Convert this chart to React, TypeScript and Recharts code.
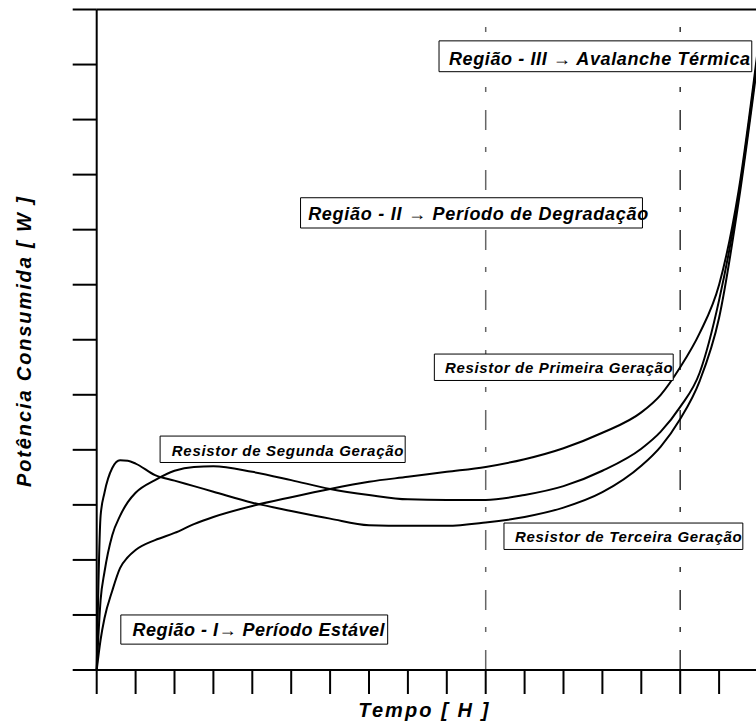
import { LineChart, Line, XAxis, YAxis, ReferenceLine, ReferenceArea } from "recharts";

// tempo (h) and power curves
const tempo = [0, 0.1, 0.2, 0.4, 0.6, 0.8, 1, 1.5, 2, 2.5, 3, 4, 5, 6, 7, 8, 9, 10, 11, 12, 13, 14, 14.5, 15, 15.5, 16, 16.5, 17];
const primeira = [0, 0.55, 0.94, 1.44, 1.85, 2.05, 2.18, 2.36, 2.49, 2.65, 2.78, 2.98, 3.14, 3.29, 3.42, 3.51, 3.6, 3.69, 3.83, 4.03, 4.31, 4.68, 5.0, 5.5, 6.12, 7.0, 8.7, 11.3];
const segunda = [0, 1.27, 1.78, 2.45, 2.8, 3.05, 3.22, 3.45, 3.62, 3.69, 3.7, 3.6, 3.45, 3.29, 3.18, 3.1, 3.09, 3.09, 3.18, 3.34, 3.62, 4.02, 4.33, 4.78, 5.4, 6.72, 8.6, 11.2];
const terceira = [0, 2.8, 3.22, 3.67, 3.81, 3.8, 3.75, 3.54, 3.44, 3.34, 3.24, 3.04, 2.89, 2.75, 2.63, 2.62, 2.62, 2.68, 2.78, 2.95, 3.23, 3.71, 4.06, 4.56, 5.25, 6.4, 8.5, 11.1];

const xTicks = [0, 1, 2, 3, 4, 5, 6, 7, 8, 9, 10, 11, 12, 13, 14, 15, 16, 17];
const yTicks = [0, 1, 2, 3, 4, 5, 6, 7, 8, 9, 10, 11, 12];
const regionLimits = [10, 15];

const rotulos = [
  "Região - III  → Avalanche Térmica",
  "Região - II  → Período de Degradação",
  "Região - I→ Período Estável",
  "Resistor de Segunda Geração",
  "Resistor de Primeira Geração",
  "Resistor de Terceira Geração",
];

// box corners in data units + text placement
const caixas = [
  { x1: 8.8, x2: 16.84, y1: 10.87, y2: 11.43, size: 18, pad: 10, base: 24, len: 301 },
  { x1: 5.24, x2: 14.03, y1: 8.03, y2: 8.58, size: 18, pad: 7.6, base: 22.3, len: 340 },
  { x1: 0.62, x2: 7.48, y1: 0.47, y2: 1.0, size: 18, pad: 11.7, base: 21, len: 252 },
  { x1: 1.63, x2: 7.93, y1: 3.77, y2: 4.25, size: 15, pad: 11.7, base: 19.5, len: 231.6 },
  { x1: 8.68, x2: 14.82, y1: 5.26, y2: 5.74, size: 15, pad: 10.7, base: 19, len: 227.7 },
  { x1: 10.47, x2: 16.61, y1: 2.19, y2: 2.67, size: 15, pad: 11, base: 19, len: 226.7 },
];

const data = tempo.map((t, i) => ({
  t,
  primeira: primeira[i],
  segunda: segunda[i],
  terceira: terceira[i],
}));

const FONT = "'Liberation Sans', Arial, sans-serif";

const renderBoxText = (text: string, c: any) => (props: any) => {
  const vb = props.viewBox || {};
  const parts = text.split("→");
  return (
    <text
      x={vb.x + c.pad}
      y={vb.y + c.base}
      fontFamily={FONT}
      fontSize={c.size}
      fontWeight="bold"
      fontStyle="italic"
      fill="#000"
      textLength={c.len}
      lengthAdjust="spacing"
    >
      {parts[0]}
      {parts.length > 1 && (
        <tspan fontWeight="normal" fontStyle="normal">→</tspan>
      )}
      {parts.length > 1 && parts[1]}
    </text>
  );
};

const renderXLabel = (props: any) => {
  const vb = props.viewBox || { x: 96.7, y: 670, width: 661.3 };
  return (
    <text
      x={vb.x + vb.width / 2 - 4}
      y={vb.y + 47}
      textAnchor="middle"
      fontFamily={FONT}
      fontSize={20}
      fontWeight="bold"
      fontStyle="italic"
      textLength={130}
      lengthAdjust="spacing"
    >
      Tempo [ H ]
    </text>
  );
};

const renderYLabel = () => (
  <text
    x={31}
    y={342}
    transform="rotate(-90, 31, 342)"
    textAnchor="middle"
    fontFamily={FONT}
    fontSize={20}
    fontWeight="bold"
    fontStyle="italic"
    textLength={290}
    lengthAdjust="spacing"
  >
    Potência Consumida [ W ]
  </text>
);

const blank = () => "";

const App = () => {
  return (
    <div style={{ position: "fixed", top: 0, left: 0, width: 756, height: 724, overflow: "hidden", background: "#fff" }}>
      <LineChart
        width={770}
        height={724}
        data={data}
        margin={{ top: 9.5, right: 12, bottom: 0, left: 0 }}
      >
        <XAxis
          type="number"
          dataKey="t"
          domain={[0, 17]}
          ticks={xTicks}
          tickFormatter={blank}
          tickSize={24}
          height={54}
          axisLine={{ stroke: "#000", strokeWidth: 2 }}
          tickLine={{ stroke: "#000", strokeWidth: 2 }}
          label={renderXLabel}
        />
        <YAxis
          type="number"
          domain={[0, 12]}
          ticks={yTicks}
          tickFormatter={blank}
          tickSize={24}
          width={96.7}
          axisLine={{ stroke: "#000", strokeWidth: 2 }}
          tickLine={{ stroke: "#000", strokeWidth: 2 }}
          label={renderYLabel}
        />
        <ReferenceLine y={12} stroke="#000" strokeWidth={2} />
        {regionLimits.map((x, i) => (
          <ReferenceLine
            key={x}
            x={x}
            stroke={i === 0 ? "#666" : "#333"}
            strokeWidth={1.5}
            strokeDasharray="20 18 5 17"
            zIndex={100}
          />
        ))}
        <Line type="monotone" dataKey="primeira" stroke="#000" strokeWidth={2} dot={false} isAnimationActive={false} />
        <Line type="monotone" dataKey="segunda" stroke="#000" strokeWidth={2} dot={false} isAnimationActive={false} />
        <Line type="monotone" dataKey="terceira" stroke="#000" strokeWidth={2} dot={false} isAnimationActive={false} />
        {caixas.map((c, i) => (
          <ReferenceArea
            key={rotulos[i]}
            x1={c.x1}
            x2={c.x2}
            y1={c.y1}
            y2={c.y2}
            fill="#fff"
            fillOpacity={1}
            stroke="#000"
            strokeWidth={1}
            ifOverflow="visible"
            zIndex={900}
            label={renderBoxText(rotulos[i], c)}
          />
        ))}
      </LineChart>
    </div>
  );
};

export default App;
